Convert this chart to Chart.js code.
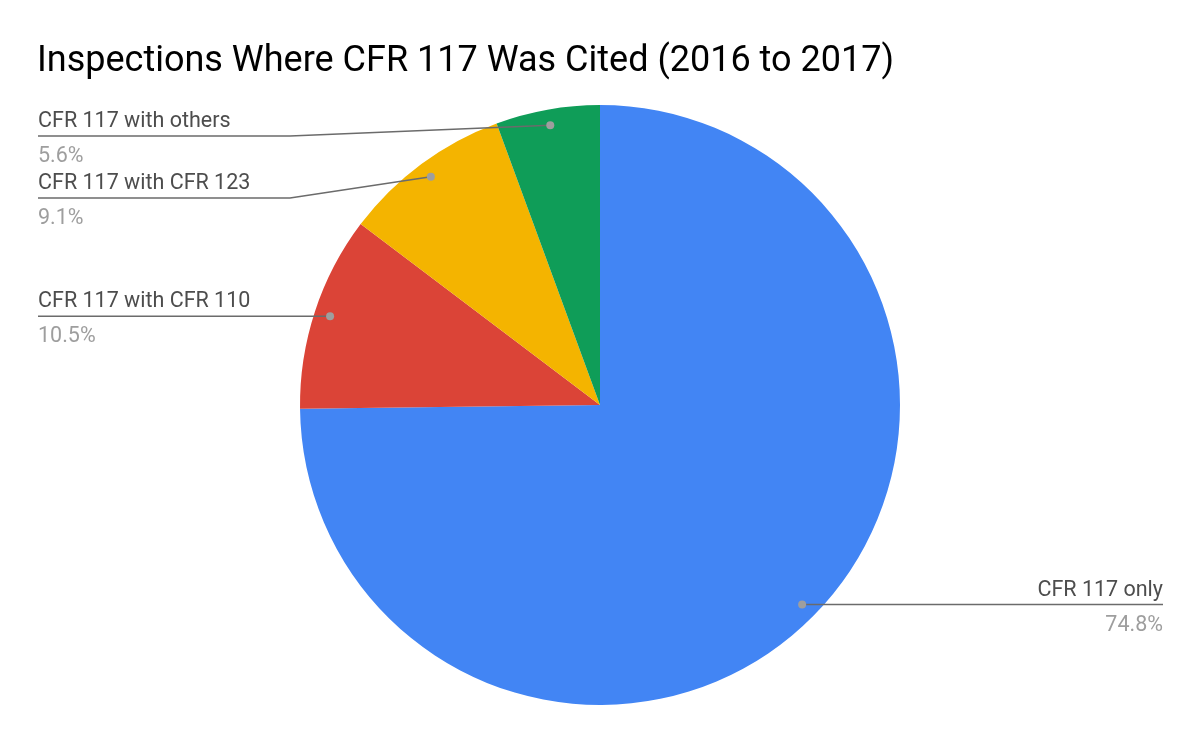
<!DOCTYPE html>
<html>
<head>
<meta charset="utf-8">
<script src="https://cdn.jsdelivr.net/npm/chart.js@4"></script>
<style>
  html, body { margin: 0; padding: 0; background: #fff; }
  #wrap { width: 1200px; height: 742px; }
</style>
</head>
<body>
<div id="wrap"><canvas id="pieChart" width="1200" height="742"></canvas></div>
<script>
const chartTitle = "Inspections Where CFR 117 Was Cited (2016 to 2017)";
const categories = ["CFR 117 only", "CFR 117 with CFR 110", "CFR 117 with CFR 123", "CFR 117 with others"];
const shares = [74.8, 10.5, 9.1, 5.6];
const sliceColors = ["#4285F4", "#DB4437", "#F4B400", "#0F9D58"];

// draws title plus the google-sheets style leader labels
const leaderLabels = {
    id: "leaderLabels",
    afterDraw(chart) {
        const ctx = chart.ctx;
        ctx.save();
        ctx.fillStyle = "#000";
        ctx.font = "36px Roboto";
        ctx.textBaseline = "alphabetic";
        ctx.textAlign = "left";
        ctx.fillText(chartTitle, 37, 71);

        const arcs = chart.getDatasetMeta(0).data;
        let items = arcs.map((arc, i) => {
            const mid = (arc.startAngle + arc.endAngle) / 2;
            const r = arc.outerRadius * 0.947;
            const dx = arc.x + Math.cos(mid) * r;
            const dy = arc.y + Math.sin(mid) * r;
            return { i, dx, dy, left: dx < arc.x };
        });

        // stack the left labels so they do not overlap
        let prev = -Infinity;
        items.filter(it => it.left).sort((a, b) => a.dy - b.dy).forEach(it => {
            it.ly = Math.max(it.dy, 136, prev + 62);
            prev = it.ly;
        });
        items.filter(it => !it.left).forEach(it => { it.ly = it.dy; });

        items.forEach(it => {
            const textX = it.left ? 38 : 1163;
            const elbowX = it.left ? Math.min(290, it.dx) : Math.max(910, it.dx);
            ctx.strokeStyle = "#6b6b6b";
            ctx.lineWidth = 1.5;
            ctx.beginPath();
            ctx.moveTo(it.dx, it.dy);
            ctx.lineTo(elbowX, it.ly);
            ctx.lineTo(textX, it.ly);
            ctx.stroke();

            ctx.fillStyle = "#9e9e9e";
            ctx.beginPath();
            ctx.arc(it.dx, it.dy, 4, 0, Math.PI * 2);
            ctx.fill();

            ctx.textAlign = it.left ? "left" : "right";
            ctx.font = "21.5px Roboto";
            ctx.fillStyle = "#4d4d4d";
            ctx.fillText(categories[it.i], textX, it.ly - 9);
            ctx.fillStyle = "#9e9e9e";
            ctx.fillText(shares[it.i].toFixed(1) + "%", textX, it.ly + 26);
        });
        ctx.restore();
    }
};

new Chart(document.getElementById("pieChart").getContext("2d"), {
    type: "pie",
    data: {
        labels: categories,
        datasets: [{
            data: shares,
            backgroundColor: sliceColors,
            borderWidth: 0
        }]
    },
    options: {
        responsive: false,
        animation: false,
        devicePixelRatio: 1,
        layout: { padding: { top: 105, bottom: 37, left: 0, right: 0 } },
        plugins: {
            legend: { display: false },
            tooltip: { enabled: false }
        }
    },
    plugins: [leaderLabels]
});
</script>
</body>
</html>
